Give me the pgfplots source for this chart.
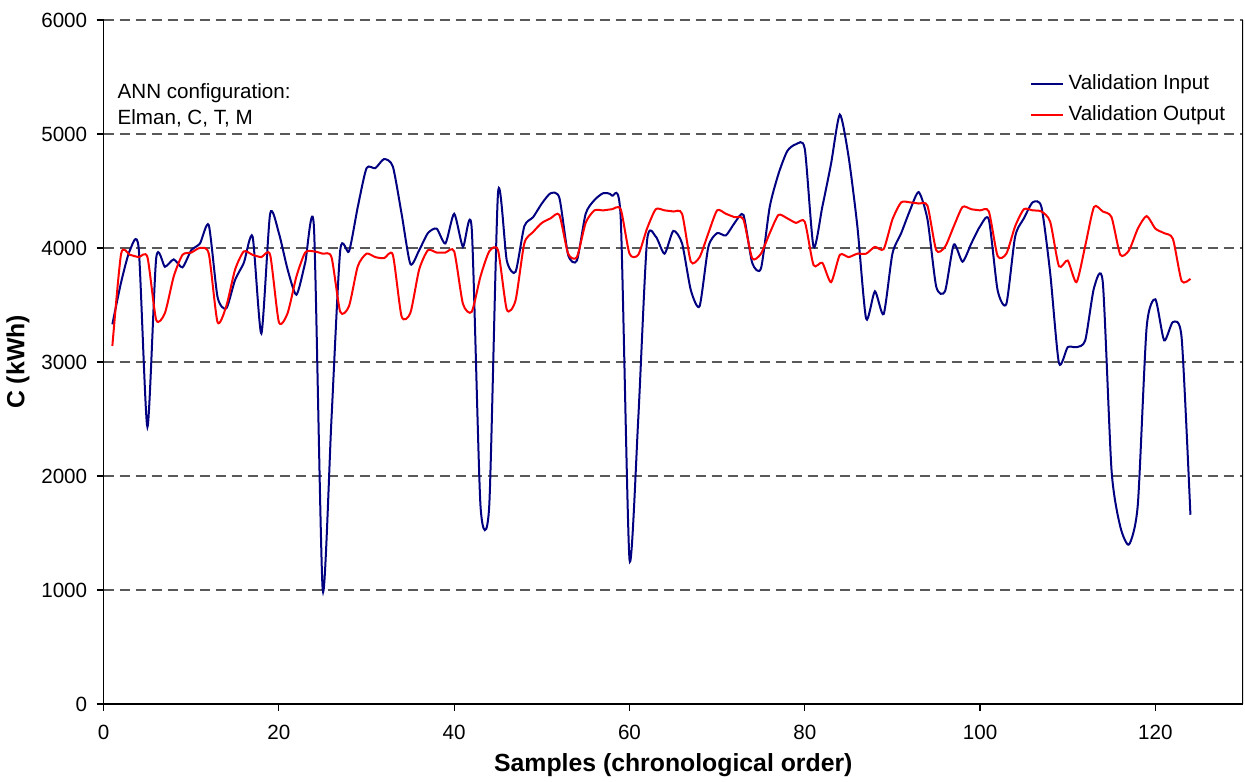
\documentclass[border=0pt]{standalone}
\usepackage{fontspec}
\setmainfont{Liberation Sans}
\usepackage{pgfplots}
\usepackage{pgfplotstable}
\pgfplotsset{compat=1.18}
\definecolor{navyline}{RGB}{0,0,128}
\definecolor{redline}{RGB}{255,0,0}
\pgfplotstableread{
n v
1 3330
2 3700
3 3980
4 4000
5 2430
6 3910
7 3835
8 3900
9 3830
10 3980
11 4040
12 4200
13 3570
14 3470
15 3720
16 3870
17 4100
18 3250
19 4300
20 4130
21 3810
22 3590
23 3870
24 4180
25 1000
26 2500
27 3980
28 3970
29 4360
30 4700
31 4700
32 4780
33 4715
34 4300
35 3860
36 3980
37 4130
38 4170
39 4040
40 4300
41 4010
42 4170
43 1740
44 1740
45 4480
46 3890
47 3790
48 4190
49 4270
50 4390
51 4480
52 4440
53 3940
54 3890
55 4300
56 4420
57 4480
58 4460
59 4260
60 1270
61 2500
62 4060
63 4100
64 3950
65 4150
66 4040
67 3630
68 3490
69 4010
70 4130
71 4110
72 4220
73 4290
74 3870
75 3820
76 4360
77 4650
78 4850
79 4910
80 4870
81 4010
82 4360
83 4740
84 5170
85 4800
86 4190
87 3380
88 3620
89 3420
90 3950
91 4130
92 4330
93 4490
94 4250
95 3660
96 3620
97 4030
98 3880
99 4040
100 4190
101 4250
102 3630
103 3510
104 4100
105 4260
106 4400
107 4360
108 3780
109 2990
110 3130
111 3130
112 3190
113 3650
114 3700
115 2050
116 1555
117 1400
118 1750
119 3300
120 3550
121 3190
122 3350
123 3210
124 1660
}\inputdata
\pgfplotstableread{
n v
1 3140
2 3950
3 3940
4 3920
5 3920
6 3370
7 3430
8 3750
9 3940
10 3960
11 4000
12 3950
13 3350
14 3490
15 3810
16 3970
17 3940
18 3920
19 3940
20 3350
21 3430
22 3750
23 3960
24 3970
25 3950
26 3920
27 3440
28 3490
29 3840
30 3950
31 3920
32 3910
33 3940
34 3400
35 3430
36 3810
37 3980
38 3960
39 3960
40 3970
41 3510
42 3440
43 3750
44 3970
45 3980
46 3460
47 3540
48 4040
49 4140
50 4220
51 4260
52 4290
53 3950
54 3920
55 4220
56 4330
57 4330
58 4340
59 4340
60 3950
61 3940
62 4170
63 4340
64 4330
65 4320
66 4300
67 3880
68 3920
69 4130
70 4330
71 4300
72 4270
73 4250
74 3910
75 3950
76 4130
77 4290
78 4260
79 4220
80 4230
81 3850
82 3870
83 3700
84 3940
85 3920
86 3950
87 3950
88 4010
89 3990
90 4250
91 4400
92 4400
93 4390
94 4370
95 3980
96 4010
97 4190
98 4360
99 4340
100 4330
101 4320
102 3930
103 3950
104 4190
105 4340
106 4330
107 4320
108 4230
109 3840
110 3890
111 3700
112 4020
113 4360
114 4320
115 4270
116 3940
117 3980
118 4170
119 4280
120 4170
121 4130
122 4080
123 3710
124 3730
}\outputdata
\begin{document}
\begin{tikzpicture}
\begin{axis}[
  scale only axis, width=569.7pt, height=342pt,
  xmin=0, xmax=130, ymin=0, ymax=6000,
  xtick={0,20,...,120}, ytick={0,1000,...,6000},
  axis x line*=bottom, axis y line*=left,
  axis line style={line width=0.7pt, black, -},
  tick align=outside, major tick length=3.5pt,
  tick style={black, line width=0.6pt},
  ymajorgrids,
  grid style={dash pattern=on 5pt off 3pt, line width=0.7pt, color=black!65},
  /pgf/number format/assume math mode=true,
  /pgf/number format/1000 sep={},
  ticklabel style={font=\fontsize{10.3}{12}\selectfont},
  xticklabel style={yshift=-3.5pt},
  yticklabel style={xshift=-1.2pt},
  xlabel={Samples (chronological order)},
  xlabel style={font=\fontsize{12.4}{14}\selectfont\bfseries, at={(axis description cs:0.5,-0.0892)}, anchor=center},
  ylabel={C (kWh)},
  ylabel style={font=\fontsize{12.4}{14}\selectfont\bfseries, at={(axis description cs:-0.0751,0.5)}, anchor=center},
  legend style={draw=none, fill=none, at={(axis description cs:0.8125,0.9287)}, anchor=north west,
    inner sep=0pt, row sep=0pt, font=\fontsize{10.3}{12}\selectfont,
    nodes={text height=8pt, text depth=2.5pt, inner sep=2.4pt}},
  legend cell align=left,
  legend image code/.code={\draw[#1] (0pt,0pt) -- (16pt,0pt);},
]
\addplot[navyline, line width=1pt, smooth, tension=0.4] table[x=n, y=v] {\inputdata};
\addlegendentry{Validation Input}
\addplot[redline, line width=1pt, smooth, tension=0.4] table[x=n, y=v] {\outputdata};
\addlegendentry{Validation Output}
\draw[line width=0.7pt, black] (rel axis cs:1,0) -- (rel axis cs:1,1);
\node[anchor=base west, inner sep=0pt, font=\fontsize{10.3}{12}\selectfont] at (rel axis cs:0.012,0.8849) {ANN configuration:};
\node[anchor=base west, inner sep=0pt, font=\fontsize{10.3}{12}\selectfont] at (rel axis cs:0.012,0.8469) {Elman, C, T, M};
\coordinate (ll) at (rel axis cs:0,0);
\coordinate (ur) at (rel axis cs:1,1);
\end{axis}
\pgfresetboundingbox
\path[use as bounding box] ([xshift=-51.8pt,yshift=-39pt]ll) rectangle ([xshift=1pt,yshift=10pt]ur);
\end{tikzpicture}
\end{document}
